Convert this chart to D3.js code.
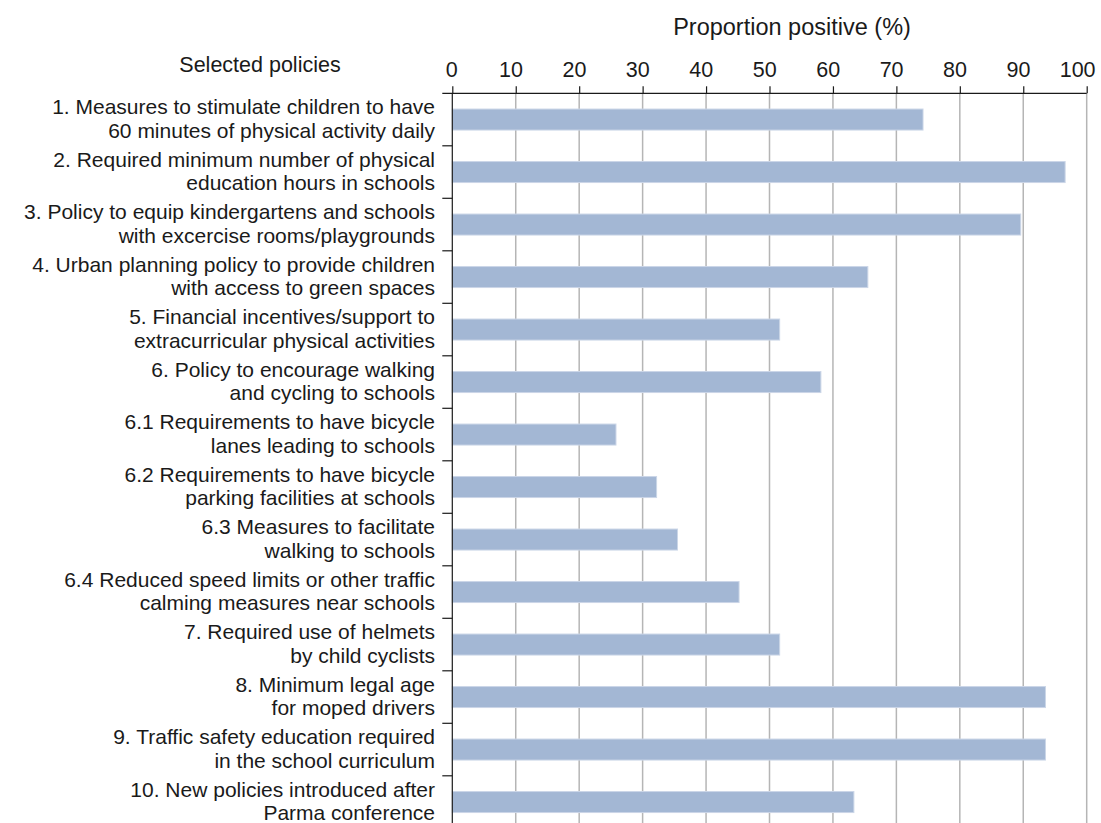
<!DOCTYPE html>
<html>
<head>
<meta charset="utf-8">
<script src="https://cdn.jsdelivr.net/npm/d3@7"></script>
<style>
  html, body { margin: 0; padding: 0; background: #fff; }
  svg { display: block; font-family: "Liberation Sans", Arial, Helvetica, sans-serif; }
  .grid line { stroke: #b5b5b5; stroke-width: 1.5; }
  .bar { fill: #a3b7d4; stroke: #cbd6e7; stroke-width: 1; }
  .axis-line { stroke: #1a1a1a; stroke-width: 1.2; }
  .label { font-size: 21px; fill: #1a1a1a; }
  .heading { font-size: 21.5px; fill: #1a1a1a; }
  .tick-label { font-size: 21.5px; fill: #1a1a1a; }
  .title { font-size: 23.5px; fill: #1a1a1a; }
</style>
</head>
<body>
<div id="chart"></div>
<script>
// Policy labels, two lines each as in the original figure
var policyLines = [
  ['1. Measures to stimulate children to have', '60 minutes of physical activity daily'],
  ['2. Required minimum number of physical', 'education hours in schools'],
  ['3. Policy to equip kindergartens and schools', 'with excercise rooms/playgrounds'],
  ['4. Urban planning policy to provide children', 'with access to green spaces'],
  ['5. Financial incentives/support to', 'extracurricular physical activities'],
  ['6. Policy to encourage walking', 'and cycling to schools'],
  ['6.1 Requirements to have bicycle', 'lanes leading to schools'],
  ['6.2 Requirements to have bicycle', 'parking facilities at schools'],
  ['6.3 Measures to facilitate', 'walking to schools'],
  ['6.4 Reduced speed limits or other traffic', 'calming measures near schools'],
  ['7. Required use of helmets', 'by child cyclists'],
  ['8. Minimum legal age', 'for moped drivers'],
  ['9. Traffic safety education required', 'in the school curriculum'],
  ['10. New policies introduced after', 'Parma conference']
];

// Proportion positive (%)
var positive = [74.2, 96.6, 89.6, 65.5, 51.6, 58.1, 25.8, 32.2, 35.5, 45.2, 51.6, 93.5, 93.5, 63.3];

var xTicks = [0, 10, 20, 30, 40, 50, 60, 70, 80, 90, 100];

var width = 1101,
    height = 823;

var plotLeft = 452.3,
    plotRight = 1086.7,
    plotTop = 93.3,
    rowStep = 52.5;

var svg = d3.select('#chart').append('svg')
    .attr('width', width)
    .attr('height', height);

var x = d3.scaleLinear()
    .domain([0, 100])
    .range([plotLeft, plotRight]);

var y = d3.scaleBand()
    .domain(d3.range(policyLines.length))
    .range([plotTop, plotTop + rowStep * policyLines.length])
    .paddingInner(0.6)
    .paddingOuter(0.3);

// vertical gridlines
svg.append('g')
    .attr('class', 'grid')
  .selectAll('line')
    .data(xTicks.filter(function(d) { return d > 0; }))
  .enter().append('line')
    .attr('x1', function(d) { return x(d); })
    .attr('x2', function(d) { return x(d); })
    .attr('y1', plotTop)
    .attr('y2', height);

// bars
svg.append('g')
  .selectAll('rect')
    .data(positive)
  .enter().append('rect')
    .attr('class', 'bar')
    .attr('x', x(0))
    .attr('y', function(d, i) { return y(i); })
    .attr('width', function(d) { return x(d) - x(0); })
    .attr('height', y.bandwidth());

// top axis
var xAxis = d3.axisTop(x)
    .tickValues(xTicks)
    .tickSize(7)
    .tickSizeOuter(0)
    .tickFormat(d3.format('d'));

var gx = svg.append('g')
    .attr('transform', 'translate(0,' + plotTop + ')')
    .call(xAxis);
gx.select('.domain').remove();
gx.selectAll('.tick line').attr('class', 'axis-line');
gx.selectAll('.tick text')
    .attr('class', 'tick-label')
    .attr('font-family', null)
    .attr('font-size', null)
    .attr('fill', null)
    .attr('y', -16)
    .attr('dx', function(d) { return -(String(d).length * 4.3 - 3.3); });

// axis lines
svg.append('line')
    .attr('class', 'axis-line')
    .attr('x1', plotLeft - 10)
    .attr('x2', plotRight)
    .attr('y1', plotTop)
    .attr('y2', plotTop);

svg.append('line')
    .attr('class', 'axis-line')
    .attr('x1', plotLeft)
    .attr('x2', plotLeft)
    .attr('y1', plotTop)
    .attr('y2', height);

// row separators on the left axis
svg.append('g')
  .selectAll('line')
    .data(d3.range(1, policyLines.length + 1))
  .enter().append('line')
    .attr('class', 'axis-line')
    .attr('x1', plotLeft - 10)
    .attr('x2', plotLeft)
    .attr('y1', function(i) { return plotTop + i * y.step(); })
    .attr('y2', function(i) { return plotTop + i * y.step(); });

// category labels, one text per line
var labelRows = svg.append('g')
  .selectAll('g')
    .data(policyLines)
  .enter().append('g')
    .attr('transform', function(d, i) {
      return 'translate(435,' + (y(i) + y.bandwidth() / 2) + ')';
    });

labelRows.selectAll('text')
    .data(function(d) { return d; })
  .enter().append('text')
    .attr('class', 'label')
    .attr('text-anchor', 'end')
    .attr('y', function(d, j) { return j === 0 ? -5.5 : 18; })
    .text(function(d) { return d; });

// headings
svg.append('text')
    .attr('class', 'heading')
    .attr('text-anchor', 'middle')
    .attr('x', 260)
    .attr('y', 72)
    .text('Selected policies');

svg.append('text')
    .attr('class', 'title')
    .attr('text-anchor', 'middle')
    .attr('x', 792)
    .attr('y', 35)
    .text('Proportion positive (%)');
</script>
</body>
</html>
